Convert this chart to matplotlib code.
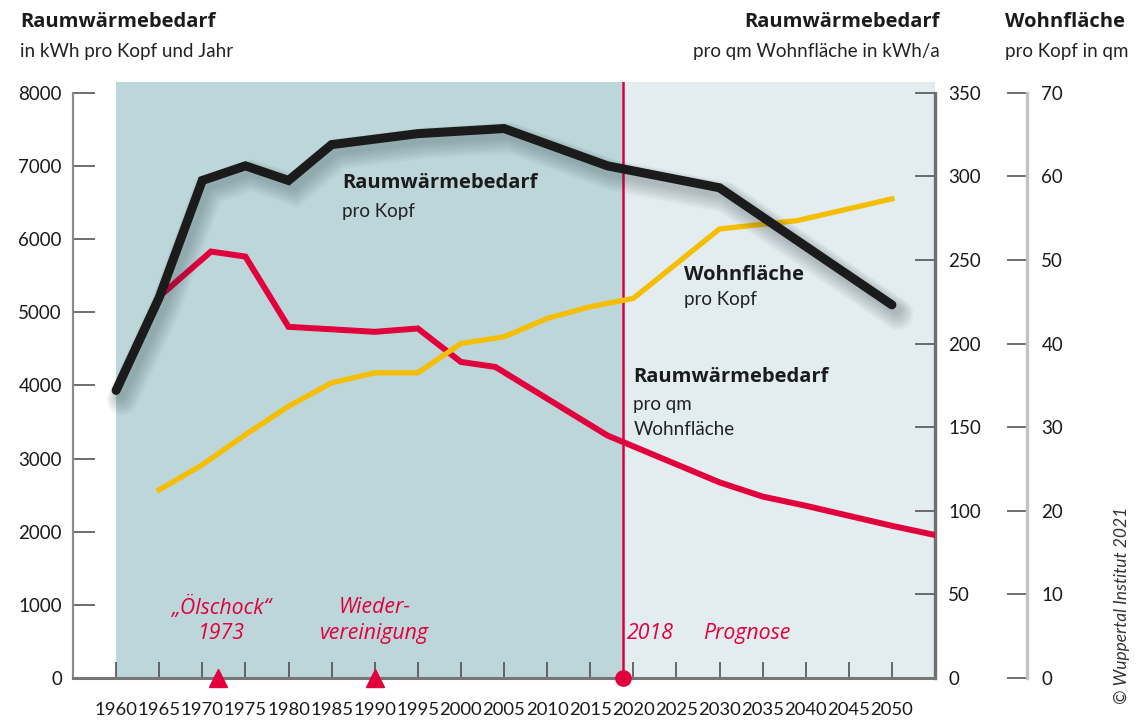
import matplotlib
matplotlib.use('Agg')
import matplotlib.pyplot as plt
import matplotlib.patheffects as pe

plt.rcParams['font.family'] = ['Lato', 'DejaVu Sans']

# data
black_years = [1960, 1965, 1970, 1975, 1980, 1985, 1995, 2005, 2017, 2030, 2050]
black_vals = [3930, 5200, 6800, 7000, 6800, 7290, 7440, 7510, 7000, 6700, 5100]   # kWh pro Kopf und Jahr

red_years = [1965, 1971, 1975, 1980, 1990, 1995, 2000, 2004, 2017, 2030, 2035, 2040, 2045, 2050, 2055]
red_vals = [228, 255, 252, 210, 207, 209, 189, 186, 145, 117, 108.5, 103, 97, 91, 85.5]  # kWh/a pro qm

yellow_years = [1965, 1970, 1975, 1980, 1985, 1990, 1995, 2000, 2005, 2010, 2015, 2020, 2030, 2039, 2050]
yellow_vals = [22.5, 25.5, 29.1, 32.5, 35.3, 36.5, 36.5, 40.0, 40.8, 43.0, 44.4, 45.4, 53.7, 54.7, 57.3]  # qm pro Kopf

event_years = [1971.8, 1990]
split_year = 2018.8

x_ticks = list(range(1960, 2051, 5))
left_ticks = list(range(0, 8001, 1000))
right_ticks = list(range(0, 351, 50))
third_ticks = list(range(0, 71, 10))

RED = '#e2003c'
YEL = '#f6be00'
BLK = '#1b1b1b'
BOLD = dict(family=['Open Sans', 'DejaVu Sans'], fontweight='bold', fontsize=14.5, color=BLK, va='center')
SUB = dict(fontsize=13.5, color='#222222', va='center')
ITAL = dict(family=['Open Sans', 'DejaVu Sans'], style='italic', fontsize=15.3, color=RED, va='center')

fig = plt.figure(figsize=(11.37, 7.22), dpi=100)
W, H = 1137, 722
ax = fig.add_axes([73 / W, 1 - 678 / H, (935 - 73) / W, (678 - 81.7) / H])
ax2 = ax.twinx()
ax3 = ax.twinx()
ax2.set_zorder(1)
ax3.set_zorder(2)
ax.set_zorder(3)
for a in (ax, ax2, ax3):
    a.patch.set_visible(False)
    a.set_xlim(1955, 2055)

ax.set_ylim(0, 8150)
ax2.set_ylim(0, 350 * 8150 / 8000)
ax3.set_ylim(0, 70 * 8150 / 8000)

# background
ax2.axvspan(1960, split_year, color='#bdd6da', lw=0, zorder=0)
ax2.axvspan(split_year, 2055, color='#e3ecef', lw=0, zorder=0)
ax2.axvline(split_year, color=RED, lw=1.8, zorder=1)

# lines
ax2.plot(red_years, red_vals, color=RED, lw=4.3, solid_joinstyle='miter', zorder=3)
ax3.plot(yellow_years, yellow_vals, color=YEL, lw=3.8, solid_joinstyle='miter', zorder=3)
# soft drop shadow under the black line
shadow = []
for k in range(8):
    shadow.append(pe.SimpleLineShadow(offset=(3 + 0.2 * k, -4 - 0.4 * k), shadow_color='#1c3338',
                                      alpha=0.035, linewidth=7 + 2.2 * k))
shadow.append(pe.Normal())
ax.plot(black_years, black_vals, color=BLK, lw=6.5, solid_capstyle='round',
        solid_joinstyle='miter', path_effects=shadow, zorder=4)

# markers on the baseline
ax.plot(event_years, [0, 0], marker='^', ms=13, color=RED, ls='none', clip_on=False, zorder=5)
ax.plot([split_year], [0], marker='o', ms=11, color=RED, ls='none', clip_on=False, zorder=5)

# spines and ticks
for a in (ax, ax2, ax3):
    a.spines['top'].set_visible(False)
ax.spines['right'].set_visible(False)
ax.spines['left'].set_color('#8a8a8a')
ax.spines['left'].set_linewidth(1.6)
ax.spines['left'].set_bounds(0, 8000)
ax.spines['bottom'].set_color('#777777')
ax.spines['bottom'].set_linewidth(2.2)
ax.set_yticks(left_ticks)
ax.tick_params(axis='y', direction='in', length=16, width=1.2, color='#555555', pad=8,
               labelsize=13.5, labelcolor='#1a1a1a')
ax.set_xticks(x_ticks)
ax.set_xticklabels([str(y) for y in x_ticks])
ax.tick_params(axis='x', direction='in', length=11.5, width=1.1, color='#444444', pad=17,
               labelsize=13.3, labelcolor='#1a1a1a')

for a in (ax2, ax3):
    a.spines['left'].set_visible(False)
    a.spines['bottom'].set_visible(False)
ax2.spines['right'].set_color('#6e6e6e')
ax2.spines['right'].set_linewidth(2.4)
ax2.spines['right'].set_bounds(0, 350)
ax2.set_yticks(right_ticks)
ax2.tick_params(axis='y', direction='in', length=14.4, width=1.2, color='#555555', pad=9.5,
                labelsize=13.5, labelcolor='#1a1a1a')

ax3.spines['right'].set_position(('axes', (1026.7 - 73) / (935 - 73)))
ax3.spines['right'].set_color('#c2c2c2')
ax3.spines['right'].set_linewidth(2.4)
ax3.spines['right'].set_bounds(0, 70)
ax3.set_yticks(third_ticks)
ax3.tick_params(axis='y', direction='in', length=14.4, width=1.2, color='#555555', pad=10.5,
                labelsize=13.5, labelcolor='#1a1a1a')

# inline labels
ax.text(1986.2, 6760, 'Raumwärmebedarf', zorder=6, **BOLD)
ax.text(1986.2, 6380, 'pro Kopf', zorder=6, **SUB)
ax.text(2025.9, 5505, 'Wohnfläche', zorder=6, **BOLD)
ax.text(2025.9, 5178, 'pro Kopf', zorder=6, **SUB)
ax.text(2020.0, 4112, 'Raumwärmebedarf', zorder=6, **BOLD)
ax.text(2020.0, 3743, 'pro qm', zorder=6, **SUB)
ax.text(2020.0, 3402, 'Wohnfläche', zorder=6, **SUB)

# event labels
ax.text(1972.2, 970, '„Ölschock“', ha='center', **ITAL)
ax.text(1972.2, 615, '1973', ha='center', **ITAL)
ax.text(1990.0, 970, 'Wieder-', ha='center', **ITAL)
ax.text(1990.0, 615, 'vereinigung', ha='center', **ITAL)
ax.text(2019.3, 615, '2018', ha='left', **ITAL)
ax.text(2028.1, 615, 'Prognose', ha='left', **ITAL)

# headers
fig.text(20 / W, 1 - 22 / H, 'Raumwärmebedarf', **BOLD)
fig.text(20 / W, 1 - 52 / H, 'in kWh pro Kopf und Jahr', **SUB)
fig.text(939.6 / W, 1 - 22 / H, 'Raumwärmebedarf', ha='right', **BOLD)
fig.text(939.6 / W, 1 - 52 / H, 'pro qm Wohnfläche in kWh/a', ha='right', **SUB)
fig.text(1005 / W, 1 - 22 / H, 'Wohnfläche', **BOLD)
fig.text(1005 / W, 1 - 52 / H, 'pro Kopf in qm', **SUB)

fig.text(1122 / W, 1 - 605 / H, '© Wuppertal Institut 2021', fontsize=12.5, style='italic',
         color='#333333', rotation=90, ha='center', va='center')

fig.savefig('out.png', dpi=100)
